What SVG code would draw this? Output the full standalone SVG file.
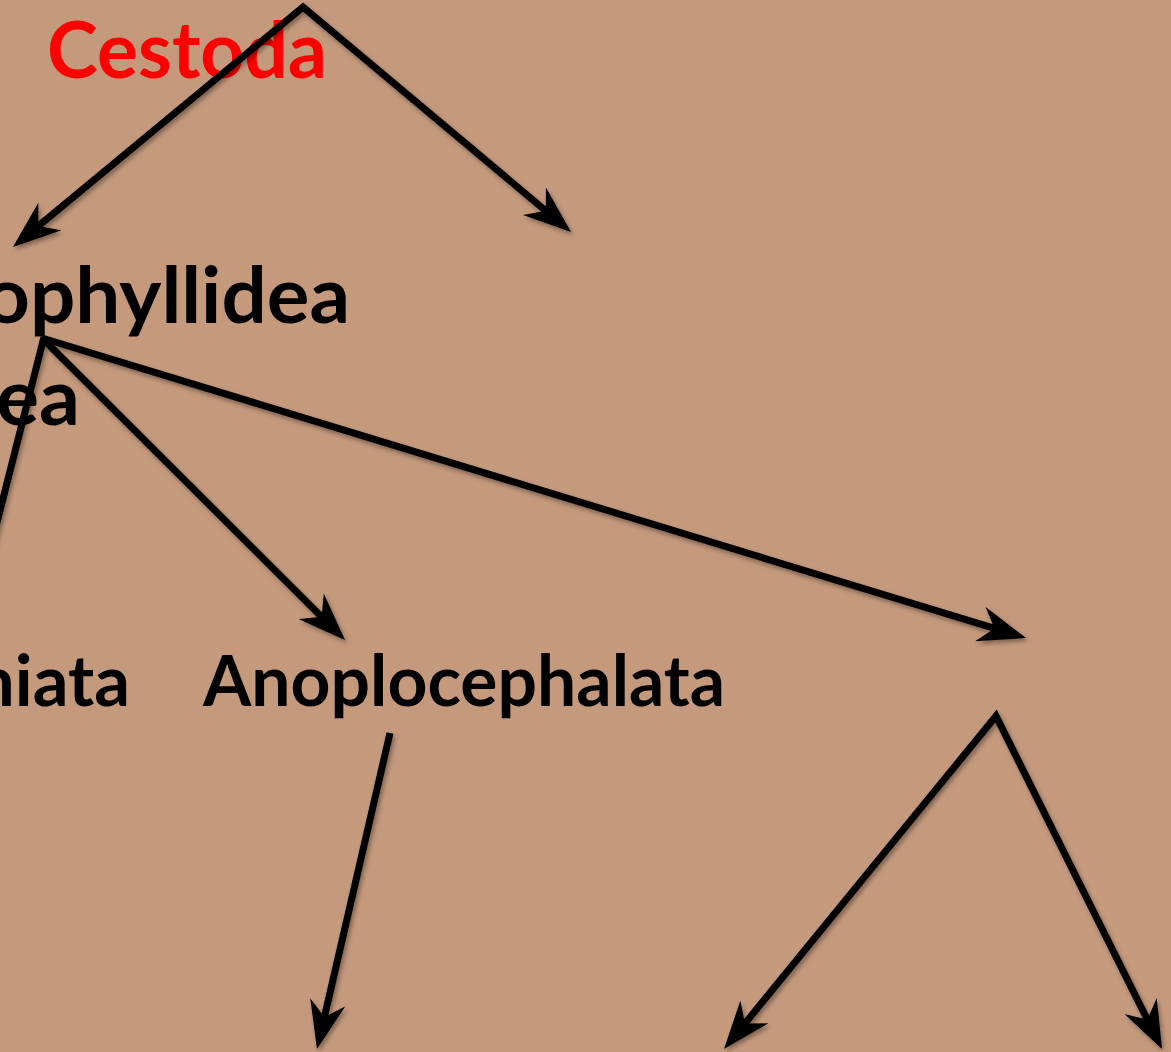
<svg xmlns="http://www.w3.org/2000/svg" width="1171" height="1052" viewBox="0 0 1171 1052">
<style>
.lbl{font-family:Lato,"Open Sans","Liberation Sans",sans-serif;font-weight:bold;fill:#000}
.big{font-size:78px}
.mid{font-size:71px}
.red{fill:#FF0000}
.conn{stroke:#000;stroke-width:7;fill:none;stroke-linejoin:miter}
</style>
<defs>
<marker id="ah" viewBox="0 0 16 12" refX="9.3" refY="6" markerWidth="6.86" markerHeight="5.14" orient="auto-start-reverse" markerUnits="strokeWidth">
<path d="M0,0 L16,6 L0,12 L5,6 z" fill="#000"/>
</marker>
<filter id="sh" x="-10%" y="-10%" width="120%" height="120%">
<feDropShadow dx="2" dy="3" stdDeviation="2" flood-color="#000" flood-opacity="0.35"/>
</filter>
</defs>
<rect width="1171" height="1052" fill="#C4997C"/>
<g id="node-cestoda"><text class="lbl big red" x="47" y="78" textLength="280" lengthAdjust="spacingAndGlyphs">Cestoda</text></g>
<g id="node-ophyllidea"><text class="lbl big" x="-16" y="323" textLength="366" lengthAdjust="spacingAndGlyphs">ophyllidea</text></g>
<g id="node-ea"><text class="lbl big" x="-4" y="425" textLength="84" lengthAdjust="spacingAndGlyphs">ea</text></g>
<g id="node-niata"><text class="lbl mid" x="-25" y="706" textLength="155" lengthAdjust="spacingAndGlyphs">niata</text></g>
<g id="node-anoplocephalata"><text class="lbl mid" x="203" y="706" textLength="522" lengthAdjust="spacingAndGlyphs">Anoplocephalata</text></g>
<g id="connectors" filter="url(#sh)">
<path class="conn" d="M28.4,234.2 L303,7 L555.7,219.1" marker-start="url(#ah)" marker-end="url(#ah)"/>
<line class="conn" x1="42" y1="338" x2="330.8" y2="625.9" marker-end="url(#ah)"/>
<line class="conn" x1="42" y1="338" x2="1006.9" y2="632.2" marker-end="url(#ah)"/>
<line class="conn" x1="44" y1="337" x2="-10" y2="550"/>
<line class="conn" x1="390" y1="733" x2="321.5" y2="1029.5" marker-end="url(#ah)"/>
<path class="conn" d="M736.7,1033.5 L996,716 L1153.1,1031.1" marker-start="url(#ah)" marker-end="url(#ah)"/>
</g>
</svg>
